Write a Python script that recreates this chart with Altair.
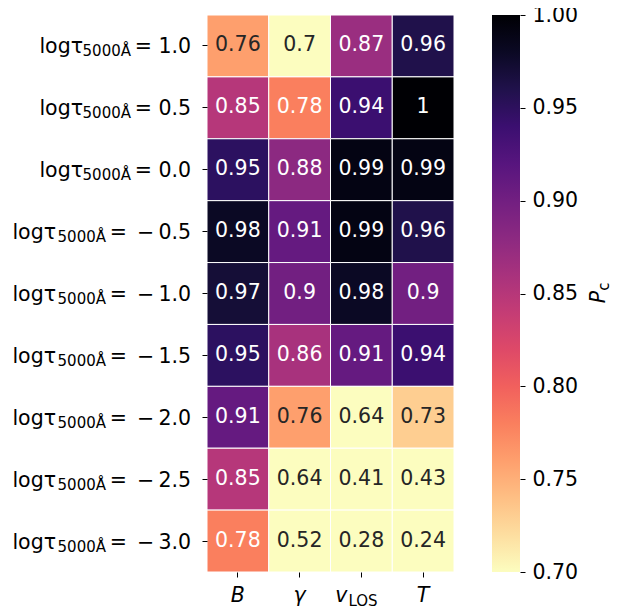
import altair as alt
import pandas as pd

# ---- data ----
params = ["B", "γ", "v_LOS", "T"]
param_symbols = ["B", "γ", "v", "T"]
log_tau = [1.0, 0.5, 0.0, -0.5, -1.0, -1.5, -2.0, -2.5, -3.0]
pc_B = [0.76, 0.85, 0.95, 0.98, 0.97, 0.95, 0.91, 0.85, 0.78]
pc_gamma = [0.70, 0.78, 0.88, 0.91, 0.90, 0.86, 0.76, 0.64, 0.52]
pc_vlos = [0.87, 0.94, 0.99, 0.99, 0.98, 0.91, 0.64, 0.41, 0.28]
pc_T = [0.96, 1.00, 0.99, 0.96, 0.90, 0.94, 0.73, 0.43, 0.24]
cbar_ticks = [0.70, 0.75, 0.80, 0.85, 0.90, 0.95, 1.00]
cbar_title = ["P", "c"]

W, H = 247, 557
FONT = "DejaVu Sans"
FS = 20.5
SUB = 15

row_keys = [f"{v:.1f}" for v in log_tau]


def rhs(v):
    if v < 0:
        return "=\u2002\u2212\u2009" + f"{abs(v):.1f}"
    return "= " + f"{v:.1f}"


records = []
for p, vals in zip(params, [pc_B, pc_gamma, pc_vlos, pc_T]):
    for k, v in zip(row_keys, vals):
        records.append({"param": p, "row": k, "pc": v})
cells = pd.DataFrame(records)
rows = pd.DataFrame({"row": row_keys,
                     "rhs": [rhs(v) for v in log_tau],
                     "neg": [v < 0 for v in log_tau]})
xdf = pd.DataFrame({"param": params, "sym": param_symbols})

x = alt.X("param:N", sort=params,
          scale=alt.Scale(paddingInner=0, paddingOuter=0),
          axis=alt.Axis(labels=False, ticks=True, tickSize=5, domain=False,
                        title=None, tickColor="black", tickWidth=1))
y = alt.Y("row:N", sort=row_keys,
          scale=alt.Scale(paddingInner=0, paddingOuter=0),
          axis=alt.Axis(labels=False, ticks=True, tickSize=5, domain=False,
                        title=None, tickColor="black", tickWidth=1))

heat = alt.Chart(cells).mark_rect(stroke="white", strokeWidth=1).encode(
    x=x, y=y,
    color=alt.Color("pc:Q",
                    scale=alt.Scale(scheme="magma", reverse=True,
                                    domain=[0.7, 1.0], clamp=True),
                    legend=alt.Legend(orient="none", legendX=285, legendY=0,
                                      direction="vertical", gradientLength=H,
                                      gradientThickness=28, title=None,
                                      labelExpr="''", padding=0,
                                      gradientStrokeWidth=0)))

txt = alt.Chart(cells).mark_text(font=FONT, fontSize=FS, baseline="alphabetic",
                                 dy=5.5).encode(
    x=x, y=y,
    text=alt.Text("pc:Q", format=".2~g"),
    color=alt.condition("datum.pc > 0.77", alt.value("white"), alt.value("#262626")))

lab_rhs = alt.Chart(rows).mark_text(align="right", baseline="alphabetic", dy=7.5,
                                    font=FONT, fontSize=FS, color="black").encode(
    y=y, x=alt.value(-16), text="rhs:N")


def sub_layer(neg, xpos):
    return alt.Chart(rows).transform_filter(
        "datum.neg" if neg else "!datum.neg").mark_text(
        align="right", baseline="alphabetic", dy=10.5, font=FONT,
        fontSize=SUB, color="black").encode(
        y=y, x=alt.value(xpos), text=alt.value("5000Å"))


def log_layer(neg, xpos):
    return alt.Chart(rows).transform_filter(
        "datum.neg" if neg else "!datum.neg").mark_text(
        align="right", baseline="alphabetic", dy=7.5, font=FONT,
        fontSize=FS, color="black").encode(
        y=y, x=alt.value(xpos), text=alt.value("logτ"))


xl_main = alt.Chart(xdf).transform_filter("datum.param != 'v_LOS'").mark_text(
    font=FONT, fontSize=FS, fontStyle="italic", baseline="alphabetic",
    color="black").encode(x=x, y=alt.value(H + 30), text="sym:N")
xl_v = alt.Chart(xdf).transform_filter("datum.param == 'v_LOS'").mark_text(
    font=FONT, fontSize=FS, fontStyle="italic", baseline="alphabetic",
    color="black", dx=-20).encode(x=x, y=alt.value(H + 30), text="sym:N")
xl_los = alt.Chart(xdf).transform_filter("datum.param == 'v_LOS'").mark_text(
    font=FONT, fontSize=SUB, baseline="alphabetic", align="left",
    color="black", dx=-13).encode(x=x, y=alt.value(H + 34), text=alt.value("LOS"))

pc_P = alt.Chart(pd.DataFrame({"t": [cbar_title[0]]})).mark_text(
    angle=270, font=FONT, fontSize=FS, fontStyle="italic", align="center",
    baseline="alphabetic", color="black").encode(
    x=alt.value(398), y=alt.value(282), text="t:N")
pc_c = alt.Chart(pd.DataFrame({"t": [cbar_title[1]]})).mark_text(
    angle=270, font=FONT, fontSize=SUB, align="center",
    baseline="alphabetic", color="black").encode(
    x=alt.value(401.5), y=alt.value(271.5), text="t:N")

main = alt.layer(heat, txt, lab_rhs,
                 sub_layer(False, -76), sub_layer(True, -101),
                 log_layer(False, -124), log_layer(True, -151),
                 xl_main, xl_v, xl_los, pc_P, pc_c)

cb = alt.Chart(pd.DataFrame({"v": cbar_ticks})).mark_point(opacity=0).encode(
    y=alt.Y("v:Q", scale=alt.Scale(domain=[0.7, 1.0], nice=False, zero=False),
            axis=alt.Axis(orient="right", offset=66, values=cbar_ticks,
                          format=".2f", tickSize=5, labelFontSize=FS,
                          labelFont=FONT, labelPadding=7, domain=False,
                          grid=False, title=None, tickColor="black",
                          labelColor="black", labelBaseline="middle",
                          labelFlush=False, labelOverlap=False)))

chart = alt.layer(main, cb).resolve_scale(y="independent").properties(
    width=W, height=H,
    autosize=alt.AutoSizeParams(type="none"),
    padding={"left": 199, "top": 7, "right": 172, "bottom": 35},
).configure_view(stroke=None)

chart.save("out.html", embed_options={"renderer": "svg", "actions": False})
